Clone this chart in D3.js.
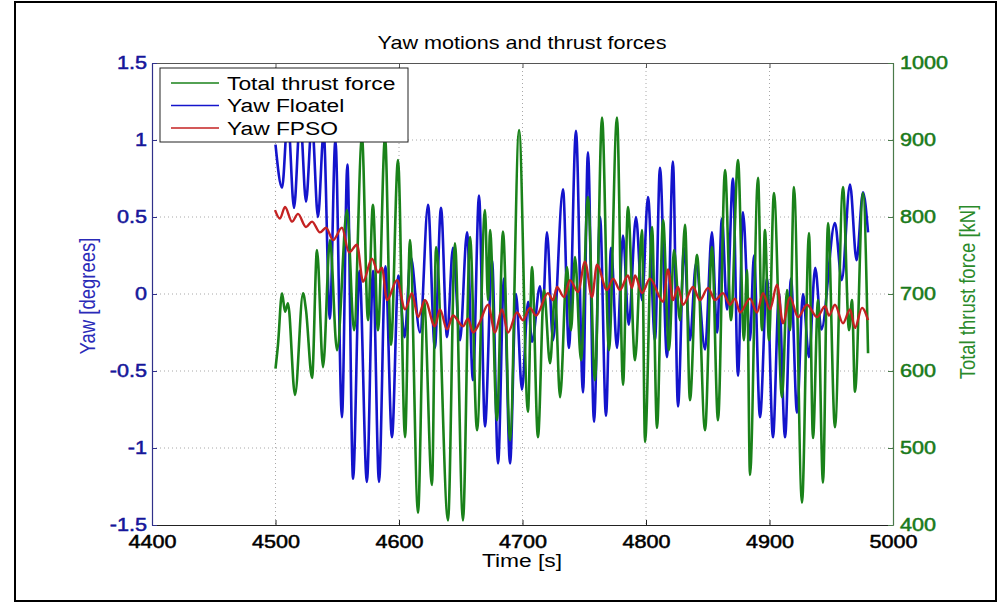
<!DOCTYPE html>
<html><head><meta charset="utf-8">
<script src="https://cdn.jsdelivr.net/npm/d3@7"></script>
<style>
html,body{margin:0;padding:0;background:#fff;}
svg{display:block;font-family:"Liberation Sans",Arial,sans-serif;}
</style></head>
<body>
<svg id="chart" width="1000" height="603"></svg>
<script>
// ---------------- data ----------------
const xTicks = [4400, 4500, 4600, 4700, 4800, 4900, 5000];
const yawTicks = [-1.5, -1, -0.5, 0, 0.5, 1, 1.5];
const thrustTicks = [400, 500, 600, 700, 800, 900, 1000];
const seriesNames = ["Total thrust force", "Yaw Floatel", "Yaw FPSO"];

// Total thrust force [kN]
const thrustTime = [4500,4502,4505.3,4507.7,4510.1,4515.8,4522.3,4524.7,4529.6,4533.6,4538.5,4544.1,4549.8,4557.9,4563.6,4570,4574.9,4578.9,4583,4588.7,4593.5,4599.2,4604.9,4608.9,4615.4,4620.2,4626.7,4630,4639.7,4645.3,4651.8,4657.5,4663.2,4669.6,4672.1,4673.7,4679.3,4684.2,4689.9,4697.2,4704.4,4707.7,4712.5,4717.4,4722.3,4726.3,4730.4,4736,4739.3,4742.5,4747.4,4753,4758.7,4764.4,4770,4776.5,4781.4,4785.4,4791.1,4796.8,4799.2,4804.9,4808.9,4813.8,4818.6,4822.7,4827.5,4831.6,4835.6,4841.3,4847.8,4853.4,4858.3,4864,4868.8,4874.5,4879.3,4881.8,4884.2,4890.7,4893.9,4896.3,4899.6,4903.6,4910.1,4914.2,4916.6,4919.8,4926.3,4932,4935.2,4939.3,4943.3,4947.4,4953,4959.5,4964.4,4966.8,4969.2,4975.7,4979.8];
const thrustValue = [603,634,701,677,688,569,701,679,591,757,605,770,627,809,653,904,666,816,653,904,634,874,514,770,416,692,452,761,406,766,406,774,523,809,692,783,536,781,510,913,547,735,514,705,610,701,566,735,653,748,614,826,588,929,627,929,582,813,614,783,508,787,526,796,627,757,666,790,562,751,523,761,536,861,666,874,640,731,465,851,653,783,640,831,566,705,653,839,429,779,513,692,455,792,527,839,653,692,573,831,623];

// Yaw Floatel [degrees]
const floatelTime = [4500,4505.3,4510,4515,4520,4524.7,4529.5,4534.4,4539,4544,4548.5,4553.8,4558.2,4562.8,4568,4574,4579,4583.8,4589,4594.3,4599.5,4604.5,4609.5,4617,4623.5,4629,4634,4638.9,4643.7,4649.4,4655.1,4659.9,4664.8,4669.6,4675.3,4680.2,4685,4689.9,4694.7,4699.6,4704.5,4707.7,4714.2,4716.5,4719.8,4724.7,4732.8,4737.6,4743.3,4749,4753,4757.9,4762.8,4767.6,4771.7,4776.5,4781.4,4786,4791.9,4796.8,4801.6,4807.3,4811.3,4817,4821.8,4825.9,4830.8,4835.6,4840.5,4847.8,4853.4,4857.5,4861.5,4865.6,4870.4,4874.5,4878.5,4884.2,4887.4,4892.3,4898,4902.8,4907.7,4912.6,4917.4,4922.3,4927.1,4932,4937,4942,4953,4958.5,4965.2,4970.5,4975.7,4979.8];
const floatelValue = [0.97,0.69,1.15,0.56,1.15,0.60,1.12,0.50,1.05,-0.16,1.0,-0.80,0.84,-1.20,0.15,-1.22,0.15,-1.22,0.18,-0.93,0.12,-0.28,0.24,-0.25,0.58,-0.35,0.56,-0.28,0.30,-0.30,0.40,-0.56,0.64,-0.86,0.22,-1.10,0.10,-1.10,0.0,-0.62,-0.05,-0.31,0.05,-0.10,0.40,-0.30,0.68,-0.35,1.06,-0.64,0.92,-0.83,0.50,-0.79,0.30,-0.35,0.38,-0.20,0.50,-0.04,0.63,-0.30,0.82,-0.41,0.86,-0.73,0.30,-0.30,0.20,-0.36,0.40,-0.25,0.49,-0.10,0.75,-0.53,0.53,-0.30,0.25,-0.80,0.10,-0.93,0.0,-0.93,0.10,-0.77,0.0,-0.41,0.17,-0.23,0.46,0.09,0.71,0.22,0.66,0.40];

// Yaw FPSO [degrees]
const fpsoTime = [4499.6,4503.6,4507.7,4513.4,4518.2,4524.7,4529.6,4536,4540.9,4546.6,4553.8,4559.5,4566,4570.9,4578.1,4583,4586.2,4590.3,4598.4,4604.9,4610.5,4615.4,4621,4629.1,4633.2,4638.9,4643.7,4651.8,4655.9,4659.9,4665.6,4672.1,4677.7,4683.4,4688.3,4695.5,4700.4,4706,4711,4720.6,4724.7,4727.9,4733.6,4738.5,4744.9,4750.6,4756.3,4760.3,4768.4,4773.3,4778.9,4785.4,4788.7,4791.1,4796.8,4803.2,4813.8,4817.8,4821.8,4825.9,4830,4838.1,4843.7,4850.2,4855.9,4862.3,4868,4872.1,4876.1,4884.2,4889.9,4894.7,4900.4,4906.1,4910.9,4916.6,4923.1,4930.4,4938.5,4945,4948.2,4953,4959.5,4965.2,4969.2,4974.9,4979.8];
const fpsoValue = [0.545,0.49,0.565,0.47,0.52,0.435,0.47,0.40,0.43,0.35,0.43,0.27,0.32,0.08,0.23,0.14,0.17,-0.04,0.09,-0.10,0.006,-0.15,-0.04,-0.21,-0.10,-0.23,-0.14,-0.21,-0.16,-0.25,-0.18,-0.07,-0.25,-0.10,-0.25,-0.12,-0.17,-0.09,-0.14,0.006,-0.04,0.045,-0.02,0.09,0.013,0.21,-0.02,0.19,0.026,0.10,0.026,0.12,0.04,0.12,0.006,0.10,-0.05,0.16,-0.04,0.045,-0.07,0.045,-0.04,0.04,-0.04,0.006,-0.07,-0.03,-0.12,-0.03,-0.12,0.006,-0.10,0.06,-0.19,-0.02,-0.15,-0.07,-0.15,-0.08,-0.14,-0.07,-0.19,-0.10,-0.22,-0.09,-0.17];

// ---------------- chart ----------------
const C = {green:"#1a821a", blue:"#1414cc", red:"#c42222",
           blueTxt:"#16169a", greenTxt:"#1a7a1a"};
const SX = 1.2; // horizontal stretch of the picture's lettering
const svg = d3.select("#chart");
const L = 152, R = 893, T = 63, B = 525;

const x = d3.scaleLinear().domain([4400, 5000]).range([L, R]);
const yL = d3.scaleLinear().domain([-1.5, 1.5]).range([B, T]);
const yR = d3.scaleLinear().domain([400, 1000]).range([B, T]);

// outer frame
svg.append("rect").attr("x", 15).attr("y", 2).attr("width", 981).attr("height", 599)
  .attr("fill", "none").attr("stroke", "#000").attr("stroke-width", 2);

// grid
const grid = svg.append("g").attr("stroke", "#a8a8a8").attr("stroke-width", 1)
  .attr("stroke-dasharray", "1,3");
xTicks.slice(1, -1).forEach(t => grid.append("line")
  .attr("x1", x(t)).attr("x2", x(t)).attr("y1", T).attr("y2", B));
yawTicks.slice(1, -1).forEach(t => grid.append("line")
  .attr("x1", L).attr("x2", R).attr("y1", yL(t)).attr("y2", yL(t)));

// clip
svg.append("clipPath").attr("id", "clip").append("rect")
  .attr("x", L).attr("y", T).attr("width", R - L).attr("height", B - T);

const plot = svg.append("g").attr("clip-path", "url(#clip)");
const mk = (ts, vs) => ts.map((t, i) => [t, vs[i]]);
const lineL = d3.line().x(d => x(d[0])).y(d => yL(d[1])).curve(d3.curveMonotoneX);
const lineR = d3.line().x(d => x(d[0])).y(d => yR(d[1])).curve(d3.curveMonotoneX);

plot.append("path").datum(mk(floatelTime, floatelValue)).attr("d", lineL)
  .attr("fill", "none").attr("stroke", C.blue).attr("stroke-width", 2.6);
plot.append("path").datum(mk(thrustTime, thrustValue)).attr("d", lineR)
  .attr("fill", "none").attr("stroke", C.green).attr("stroke-width", 2.6);
plot.append("path").datum(mk(fpsoTime, fpsoValue)).attr("d", lineL)
  .attr("fill", "none").attr("stroke", C.red).attr("stroke-width", 2.4);

// axes
function styleAxis(g, color, lineColor) {
  g.select(".domain").attr("stroke", lineColor).attr("stroke-width", 1.2);
  g.selectAll(".tick line").attr("stroke", lineColor);
  g.selectAll(".tick text").attr("fill", color).attr("font-size", 18)
    .attr("stroke", color).attr("stroke-width", 0.5)
    .style("font-family", '"Liberation Sans",Arial,sans-serif');
}
const fmt = d => String(d);
const gx = svg.append("g").attr("transform", `translate(0,${B})`)
  .call(d3.axisBottom(x).tickValues(xTicks).tickFormat(fmt).tickSizeInner(-5).tickSizeOuter(0));
styleAxis(gx, "#000", "#222");
gx.selectAll(".tick text").attr("y", null).attr("dy", null)
  .attr("transform", `translate(0,23) scale(${SX},1)`);

const gxTop = svg.append("g").attr("transform", `translate(0,${T})`)
  .call(d3.axisTop(x).tickValues(xTicks).tickFormat("").tickSizeInner(-5).tickSizeOuter(0));
styleAxis(gxTop, "#000", "#555");

const gyl = svg.append("g").attr("transform", `translate(${L},0)`)
  .call(d3.axisLeft(yL).tickValues(yawTicks).tickFormat(fmt).tickSizeInner(-5).tickSizeOuter(0));
styleAxis(gyl, C.blueTxt, "#30308a");
gyl.selectAll(".tick text").attr("x", null).attr("dy", null)
  .attr("dominant-baseline", "central")
  .attr("transform", `translate(-5,-1) scale(${SX},1)`);

const gyr = svg.append("g").attr("transform", `translate(${R},0)`)
  .call(d3.axisRight(yR).tickValues(thrustTicks).tickFormat(fmt).tickSizeInner(-5).tickSizeOuter(0));
styleAxis(gyr, C.greenTxt, "#4a7a4a");
gyr.selectAll(".tick text").attr("x", null).attr("dy", null)
  .attr("dominant-baseline", "central")
  .attr("transform", `translate(7,-1) scale(${SX},1)`);

// texts
function txt(str, px, py, opts) {
  opts = opts || {};
  return svg.append("text").text(str)
    .attr("transform", `translate(${px},${py}) scale(${SX},1)` + (opts.rot ? ` rotate(${opts.rot})` : ""))
    .attr("text-anchor", opts.anchor || "middle")
    .attr("dominant-baseline", "central")
    .attr("font-size", opts.size || 19)
    .attr("fill", opts.fill || "#000");
}
txt("Yaw motions and thrust forces", 522, 43, {size: 18});
txt("Time [s]", 522, 560, {size: 19});
txt("Yaw [degrees]", 87, 296, {rot: -90, fill: "#2a2ab8", size: 18.5});
txt("Total thrust force [kN]", 967, 292, {rot: -90, fill: "#2a8a2a", size: 18.5});

// legend
const lg = svg.append("g");
lg.append("rect").attr("x", 160).attr("y", 68).attr("width", 248).attr("height", 74)
  .attr("fill", "#fff").attr("stroke", "#222").attr("stroke-width", 1);
const legColors = [C.green, C.blue, C.red];
const legY = d3.scalePoint().domain(seriesNames).range([83, 128]);
seriesNames.forEach((n, i) => {
  lg.append("line").attr("x1", 171).attr("x2", 219).attr("y1", legY(n)).attr("y2", legY(n))
    .attr("stroke", legColors[i]).attr("stroke-width", 1.6);
  lg.append("text").text(n)
    .attr("transform", `translate(227,${legY(n)}) scale(${SX},1)`)
    .attr("dominant-baseline", "central").attr("font-size", 19).attr("fill", "#000");
});
</script>
</body></html>
